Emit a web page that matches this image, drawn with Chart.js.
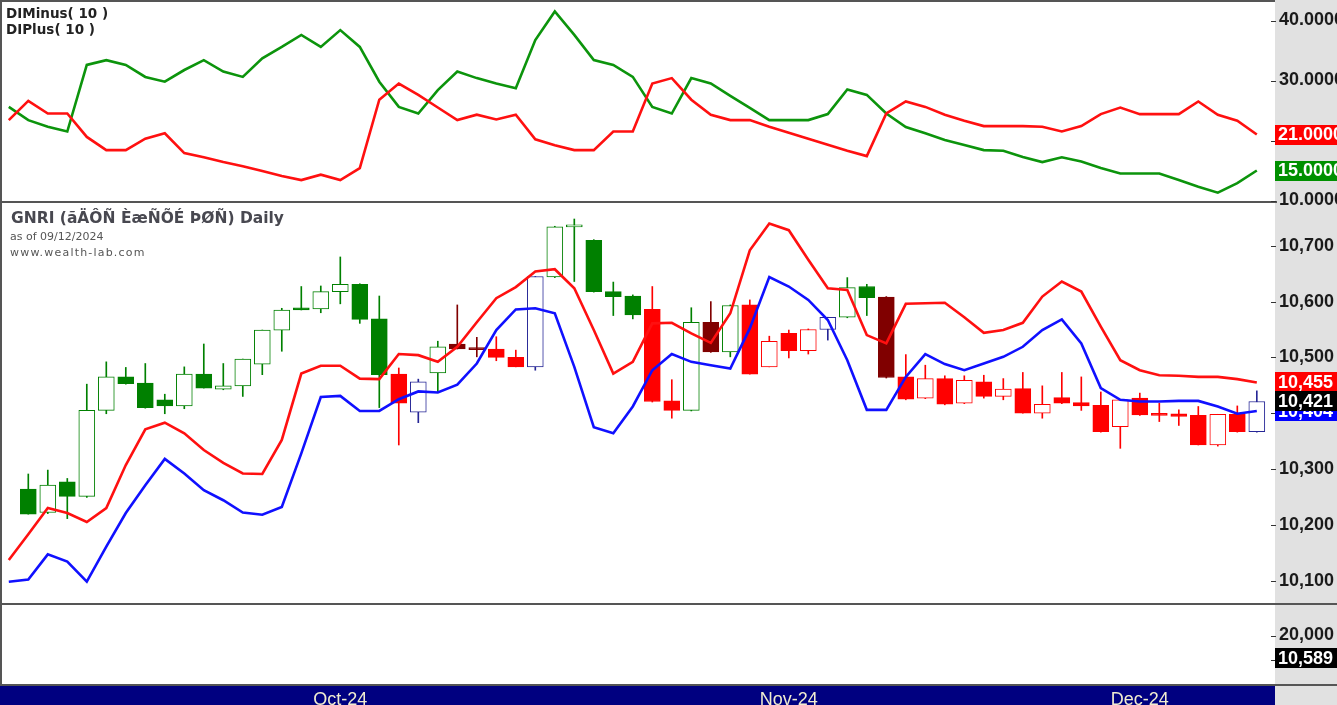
<!DOCTYPE html>
<html>
<head>
<meta charset="utf-8">
<title>GNRI Daily</title>
<script src="https://cdn.jsdelivr.net/npm/chart.js@4.4.1/dist/chart.umd.min.js"></script>
<style>
  html, body { margin: 0; padding: 0; background: #fff; }
  #wrap { position: relative; width: 1337px; height: 705px; overflow: hidden; }
  #chart { position: absolute; left: 0; top: 0; }
  .lbl { position: absolute; white-space: nowrap; line-height: 1; font-family: "DejaVu Sans", sans-serif; }
</style>
</head>
<body>
<div id="wrap">
  <canvas id="chart" width="1337" height="705"></canvas>
  <div class="lbl" style="left:6px;top:7px;font-size:13.5px;font-weight:bold;color:#222">DIMinus( 10 )</div>
  <div class="lbl" style="left:6px;top:23px;font-size:13.5px;font-weight:bold;color:#222">DIPlus( 10 )</div>
  <div class="lbl" style="left:11px;top:211px;font-size:15.5px;font-weight:bold;color:#484850">GNRI (ãÄÔÑ ÈæÑÕÉ ÞØÑ) Daily</div>
  <div class="lbl" style="left:10px;top:231px;font-size:11px;color:#555">as of 09/12/2024</div>
  <div class="lbl" style="left:10px;top:247px;font-size:11px;letter-spacing:1.2px;color:#555">www.wealth-lab.com</div>
</div>
<script>
// bar numbers: lines start one bar before the first visible candle
const firstBar = -1;

// month labels on the date axis (bar number of the first bar shown under each label)
const monthTicks = [16, 39, 57];
const monthLabels = ['Oct-24', 'Nov-24', 'Dec-24'];

// DI pane, bars -1 .. 63
const diMinus = [23.4, 26.6, 24.5, 24.5, 20.6, 18.4, 18.4, 20.3, 21.2, 17.9, 17.2, 16.4, 15.7,
  14.9, 14.1, 13.4, 14.3, 13.4, 15.4, 26.8, 29.5, 27.6, 25.5, 23.4, 24.3, 23.5, 24.3, 20.2, 19.2,
  18.4, 18.4, 21.5, 21.5, 29.5, 30.4, 26.8, 24.3, 23.4, 23.4, 22.3, 21.3, 20.3, 19.3, 18.3, 17.4,
  24.5, 26.5, 25.6, 24.3, 23.3, 22.4, 22.4, 22.4, 22.3, 21.5, 22.4, 24.4, 25.5, 24.4, 24.4, 24.4,
  26.5, 24.3, 23.3, 21.0];
const diPlus = [25.6, 23.4, 22.3, 21.5, 32.6, 33.4, 32.6, 30.6, 29.8, 31.75, 33.4, 31.5, 30.6,
  33.7, 35.6, 37.6, 35.6, 38.4, 35.6, 29.8, 25.6, 24.5, 28.4, 31.5, 30.4, 29.5, 28.7, 36.75, 41.5,
  37.6, 33.4, 32.6, 30.6, 25.6, 24.5, 30.4, 29.5, 27.45, 25.45, 23.4, 23.4, 23.4, 24.4, 28.5, 27.6,
  24.5, 22.25, 21.2, 20.1, 19.25, 18.4, 18.3, 17.25, 16.4, 17.2, 16.5, 15.4, 14.5, 14.5, 14.5, 13.4,
  12.3, 11.3, 12.9, 15.0];

// price bands, bars -1 .. 63
const upperBand = [10137, 10183, 10230, 10221, 10205, 10230, 10307, 10371, 10383, 10364, 10334,
  10311, 10292, 10291, 10352, 10471, 10485, 10485, 10462, 10461, 10506, 10504, 10492, 10519, 10563,
  10606, 10626, 10654, 10658, 10624, 10549, 10471, 10492, 10561, 10562, 10543, 10526, 10579, 10692,
  10740, 10728, 10675, 10624, 10621, 10540, 10525, 10596, 10597, 10598, 10572, 10544, 10549, 10562,
  10609, 10636, 10618, 10555, 10495, 10477, 10468, 10467, 10465, 10465, 10461, 10455];
const lowerBand = [10098, 10102, 10147, 10134, 10098, 10161, 10221, 10271, 10318, 10292, 10262,
  10244, 10222, 10218, 10232, 10328, 10429, 10431, 10404, 10404, 10425, 10439, 10437, 10451, 10489,
  10549, 10586, 10588, 10579, 10483, 10375, 10364, 10412, 10477, 10506, 10492, 10486, 10480, 10552,
  10644, 10627, 10603, 10567, 10495, 10406, 10406, 10465, 10506, 10488, 10477, 10489, 10501, 10519,
  10549, 10568, 10525, 10445, 10424, 10421, 10421, 10422, 10422, 10412, 10399, 10404];

// candles, bars 0 .. 63
const open = [10264, 10222, 10277, 10251, 10405, 10465, 10454, 10424, 10413, 10470, 10443, 10449,
  10488, 10549, 10589, 10587, 10618, 10631, 10569, 10470, 10402, 10472, 10524, 10515, 10515, 10500,
  10483, 10644, 10734, 10710, 10618, 10610, 10586, 10422, 10405, 10563, 10510, 10594, 10483, 10543,
  10512, 10550, 10572, 10627, 10608, 10465, 10427, 10462, 10418, 10456, 10430, 10444, 10400, 10428,
  10419, 10414, 10376, 10427, 10397, 10399, 10396, 10343, 10398, 10367];
const high = [10291, 10298, 10283, 10452, 10492, 10482, 10489, 10434, 10483, 10524, 10489, 10497,
  10549, 10588, 10627, 10628, 10680, 10632, 10610, 10481, 10461, 10529, 10594, 10536, 10537, 10513,
  10645, 10735, 10748, 10711, 10635, 10612, 10627, 10460, 10589, 10600, 10594, 10603, 10538, 10549,
  10551, 10572, 10643, 10631, 10609, 10505, 10486, 10467, 10467, 10468, 10462, 10473, 10449, 10473,
  10465, 10438, 10424, 10436, 10418, 10406, 10412, 10398, 10413, 10440];
const low = [10219, 10220, 10211, 10249, 10399, 10452, 10409, 10399, 10408, 10445, 10442, 10430,
  10469, 10511, 10585, 10580, 10596, 10561, 10410, 10343, 10383, 10437, 10515, 10501, 10494, 10483,
  10477, 10643, 10636, 10617, 10575, 10569, 10420, 10391, 10404, 10509, 10501, 10470, 10483, 10499,
  10506, 10531, 10571, 10575, 10463, 10424, 10426, 10415, 10417, 10427, 10424, 10400, 10391, 10417,
  10405, 10366, 10337, 10396, 10385, 10378, 10343, 10341, 10366, 10366];
const close = [10219, 10271, 10251, 10405, 10465, 10453, 10410, 10413, 10470, 10445, 10449, 10497,
  10549, 10585, 10585, 10618, 10631, 10568, 10469, 10418, 10456, 10519, 10515, 10514, 10500, 10483,
  10645, 10734, 10735, 10618, 10609, 10576, 10421, 10405, 10563, 10510, 10593, 10470, 10529, 10512,
  10550, 10572, 10625, 10607, 10464, 10425, 10462, 10416, 10459, 10430, 10443, 10400, 10416, 10418,
  10413, 10367, 10424, 10397, 10396, 10394, 10343, 10398, 10367, 10421];
// bar colouring state: g = green, r = red, m = maroon, b = blue
const tone = ('ggggggggggggggggggg' + 'rbgmmrrbgggggrrgmgrrrrbggm' + 'rrrrrrrrrrrrrrrrrr' + 'b').split('');

const volumeLast = 10589;

// axis ticks
const diTicks = [10, 20, 30, 40];
const priceTicks = [10100, 10200, 10300, 10400, 10500, 10600, 10700];
const volumeTicks = [10000, 20000];

const toneColor = { g: '#008000', r: '#ff0000', m: '#800000', b: '#262696' };
const fmt = v => v.toLocaleString('en-US');

const linePts = arr => arr.map((v, k) => ({ x: firstBar + k, y: v }));
const candleColors = tone.map(t => toneColor[t]);
const bodyFill = open.map((o, i) => close[i] > o ? '#ffffff' : candleColors[i]);

const axisFont = { family: '"Liberation Sans", Arial, sans-serif', size: 18, weight: 'bold' };

function noPad(s) {
  s.paddingTop = 0; s.paddingBottom = 0; s.paddingLeft = 0; s.paddingRight = 0;
}

function yAxis(weight, min, max, ticks, fmtTick) {
  return {
    type: 'linear', position: 'right', stack: 'panes', stackWeight: weight,
    min: min, max: max,
    grid: { display: false, drawTicks: false }, border: { display: false },
    afterBuildTicks: s => { s.ticks = ticks.map(v => ({ value: v })); },
    afterFit: s => { s.width = 62; noPad(s); },
    ticks: { callback: fmtTick, color: '#1a1a1a', font: axisFont, padding: 4 }
  };
}

function tag(ctx, scale, value, bg, text) {
  const y = scale.getPixelForValue(value);
  ctx.fillStyle = bg;
  ctx.fillRect(scale.left, Math.round(y - 10), scale.right - scale.left, 20);
  ctx.fillStyle = '#ffffff';
  ctx.font = 'bold 18px "Liberation Sans", Arial, sans-serif';
  ctx.textBaseline = 'middle';
  ctx.textAlign = 'left';
  ctx.fillText(text, scale.left + 3, y + 1);
}

const paneFrame = {
  id: 'paneFrame',
  beforeDraw(chart) {
    const { ctx, chartArea, scales } = chart;
    ctx.save();
    ctx.fillStyle = '#ffffff';
    ctx.fillRect(0, 0, chart.width, chart.height);
    ctx.fillStyle = '#e1e1e1';
    ctx.fillRect(chartArea.right, 0, chart.width - chartArea.right, chart.height);
    ctx.fillStyle = '#000080';
    ctx.fillRect(chartArea.left, scales.x.top, chartArea.right - chartArea.left, chart.height - scales.x.top);
    ctx.restore();
  },
  afterDraw(chart) {
    const { ctx, chartArea, scales } = chart;
    ctx.save();
    // frame and pane separators
    ctx.strokeStyle = '#555';
    ctx.lineWidth = 2;
    ctx.beginPath();
    ctx.moveTo(chartArea.left, 1); ctx.lineTo(chartArea.right, 1);
    ctx.moveTo(1, 0); ctx.lineTo(1, chartArea.bottom);
    ctx.moveTo(chartArea.left, scales.yDI.bottom); ctx.lineTo(chartArea.right + 2, scales.yDI.bottom);
    ctx.moveTo(chartArea.left, scales.yPx.bottom); ctx.lineTo(chart.width, scales.yPx.bottom);
    ctx.moveTo(chartArea.left, chartArea.bottom + 1); ctx.lineTo(chart.width, chartArea.bottom + 1);
    ctx.stroke();
    // small tick marks at the axis edge
    ctx.lineWidth = 1;
    ctx.strokeStyle = '#333';
    ctx.beginPath();
    ['yDI', 'yPx', 'yVol'].forEach(id => {
      scales[id].ticks.forEach(t => {
        const y = Math.round(scales[id].getPixelForValue(t.value)) + 0.5;
        ctx.moveTo(chartArea.right - 4, y); ctx.lineTo(chartArea.right + 1, y);
      });
    });
    ctx.stroke();
    // last value tags
    tag(ctx, scales.yDI, diMinus[diMinus.length - 1], '#ff0000', diMinus[diMinus.length - 1].toFixed(4));
    tag(ctx, scales.yDI, diPlus[diPlus.length - 1], '#009000', diPlus[diPlus.length - 1].toFixed(4));
    tag(ctx, scales.yPx, upperBand[upperBand.length - 1], '#ff0000', fmt(upperBand[upperBand.length - 1]));
    tag(ctx, scales.yPx, lowerBand[lowerBand.length - 1], '#0000ff', fmt(lowerBand[lowerBand.length - 1]));
    tag(ctx, scales.yPx, close[close.length - 1], '#000000', fmt(close[close.length - 1]));
    tag(ctx, scales.yVol, volumeLast, '#000000', fmt(volumeLast));
    ctx.restore();
  }
};

new Chart(document.getElementById('chart').getContext('2d'), {
  type: 'bar',
  data: {
    datasets: [
      { type: 'line', label: 'DIMinus', yAxisID: 'yDI', data: linePts(diMinus),
        borderColor: '#ff1010', borderWidth: 2.6, pointRadius: 0, tension: 0, order: 0 },
      { type: 'line', label: 'DIPlus', yAxisID: 'yDI', data: linePts(diPlus),
        borderColor: '#0c940c', borderWidth: 2.6, pointRadius: 0, tension: 0, order: 0 },
      { type: 'line', label: 'Upper', yAxisID: 'yPx', data: linePts(upperBand),
        borderColor: '#ff1010', borderWidth: 2.6, pointRadius: 0, tension: 0, order: 0 },
      { type: 'line', label: 'Lower', yAxisID: 'yPx', data: linePts(lowerBand),
        borderColor: '#1010ff', borderWidth: 2.6, pointRadius: 0, tension: 0, order: 0 },
      { label: 'Body', yAxisID: 'yPx', grouped: false, order: 1,
        data: open.map((o, i) => ({ x: i, y: [o, close[i]] })),
        backgroundColor: bodyFill, borderColor: candleColors, borderWidth: 1, borderSkipped: false,
        minBarLength: 2, maxBarThickness: 16, barPercentage: 1, categoryPercentage: 1 },
      { label: 'Wick', yAxisID: 'yPx', grouped: false, order: 2,
        data: low.map((l, i) => ({ x: i, y: [l, high[i]] })),
        backgroundColor: candleColors, borderWidth: 0,
        maxBarThickness: 1, barPercentage: 1, categoryPercentage: 1 }
    ]
  },
  options: {
    responsive: false,
    animation: false,
    layout: { padding: 0 },
    plugins: { legend: { display: false }, tooltip: { enabled: false } },
    scales: {
      x: {
        type: 'linear', position: 'bottom', min: -1.451, max: 63.933, offset: false,
        grid: { display: false, drawTicks: false }, border: { display: false },
        afterBuildTicks: s => { s.ticks = monthTicks.map(v => ({ value: v })); },
        afterFit: s => { s.height = 21; noPad(s); },
        ticks: {
          callback: (v, i) => monthLabels[i], autoSkip: false, maxRotation: 0,
          color: '#f0ecd0', padding: 5,
          font: { family: '"Liberation Sans", Arial, sans-serif', size: 18 }
        }
      },
      yDI: yAxis(202, 9.75, 43.42, diTicks, v => v.toFixed(4)),
      yPx: yAxis(402, 10058, 10778.5, priceTicks, fmt),
      yVol: yAxis(80, 0, 33000, volumeTicks, fmt)
    }
  },
  plugins: [paneFrame]
});
</script>
</body>
</html>
